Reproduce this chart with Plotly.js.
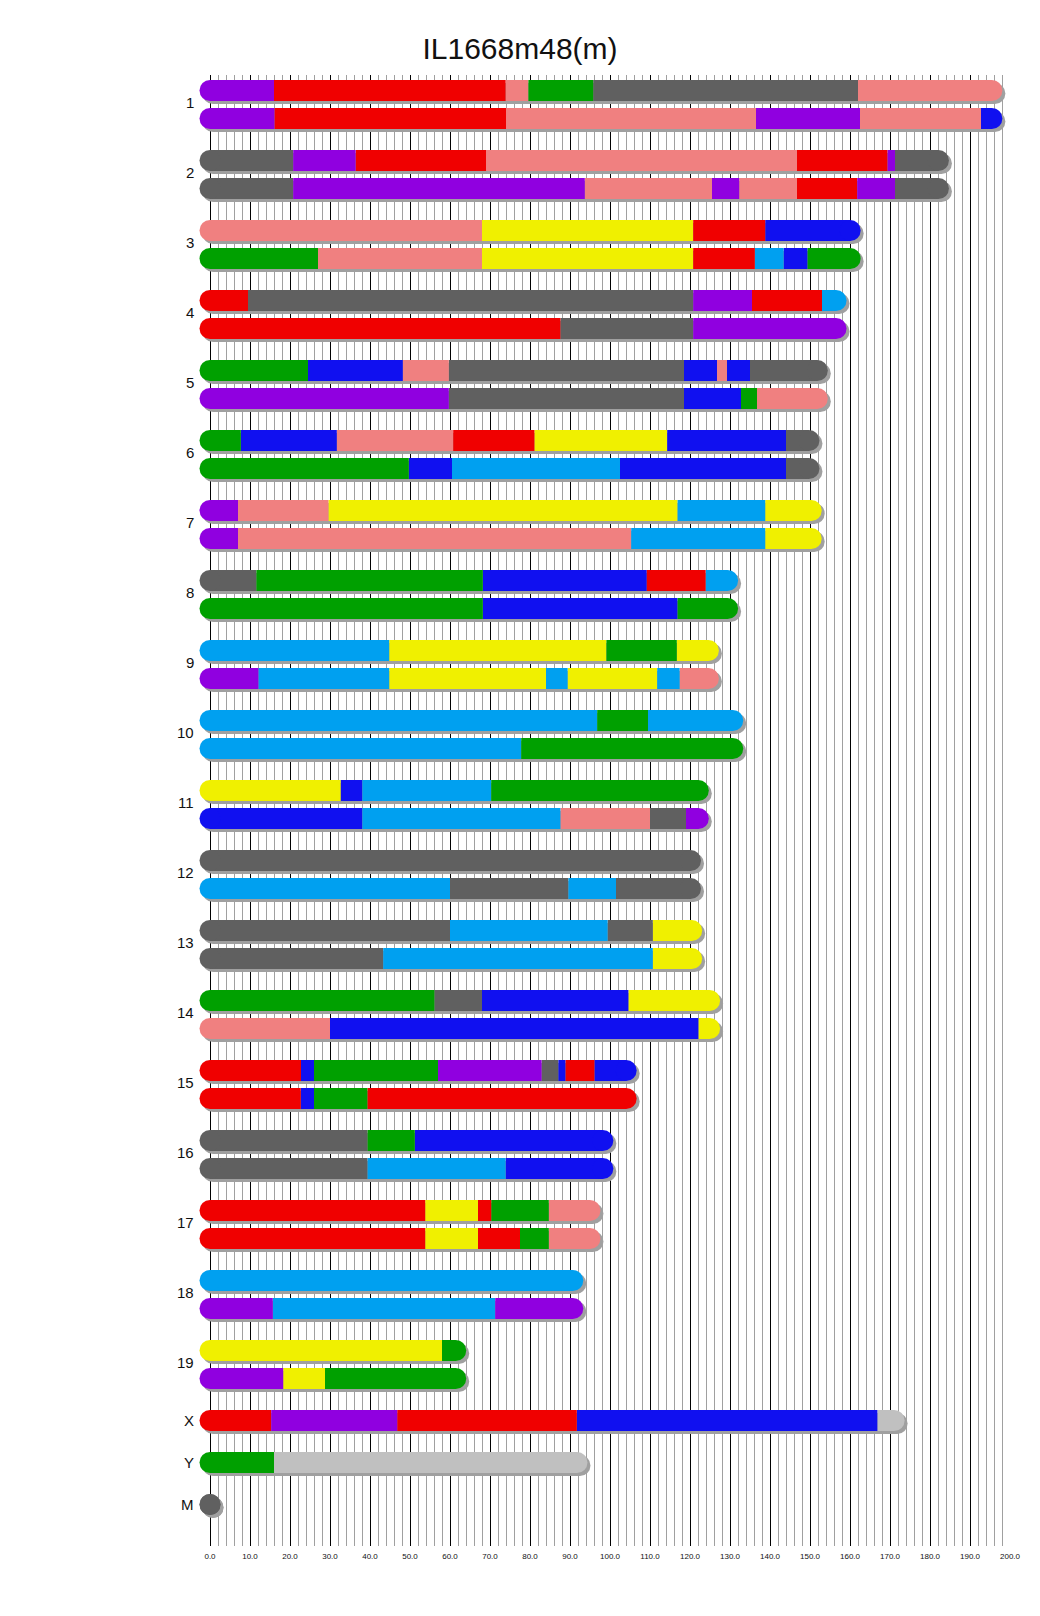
<!DOCTYPE html>
<html>
<head>
<meta charset="utf-8">
<script src="https://cdn.plot.ly/plotly-3.0.1.min.js"></script>
<style>html,body{margin:0;padding:0;background:#fff;}</style>
</head>
<body>
<div id="chart" style="width:1040px;height:1616px;"></div>
<script>
// ---------------- DATA ----------------
const chartTitle = "IL1668m48(m)";
const chromosomes = ["1","2","3","4","5","6","7","8","9","10","11","12","13","14","15","16","17","18","19","X","Y","M"];
const chromLengthsMb = [195.47,182.11,160.04,156.51,151.83,149.74,150.3,129.40,124.60,130.69,122.08,120.13,120.42,124.90,104.04,98.21,94.99,90.70,61.43,171.03,91.74,0.016];
const strainCodes = ["A","B","C","D","E","F","G","H","N"];
const strainNames = ["A/J","C57BL/6J","129S1/SvImJ","NOD/ShiLtJ","NZO/HlLtJ","CAST/EiJ","PWK/PhJ","WSB/EiJ","none"];
const xTickValues = [0,10,20,30,40,50,60,70,80,90,100,110,120,130,140,150,160,170,180,190,200];

// haplotype segments: [strain, end position (Mb)]
const hap_1a = [["H",16.0],["G",73.9],["C",79.6],["F",95.8],["B",162.0],["C",195.47]];
const hap_1b = [["H",16.1],["G",74.0],["C",136.5],["H",162.5],["C",192.75],["D",195.47]];
const hap_2a = [["B",20.8],["H",36.4],["G",69.0],["C",146.75],["G",169.4],["H",171.25],["B",182.11]];
const hap_2b = [["B",20.8],["H",93.7],["C",125.5],["H",132.3],["C",146.75],["G",161.8],["H",171.25],["B",182.11]];
const hap_3a = [["C",68.0],["A",120.8],["G",138.8],["D",160.04]];
const hap_3b = [["F",27.0],["C",68.0],["A",120.8],["G",136.2],["E",143.4],["D",149.4],["F",160.04]];
const hap_4a = [["G",9.5],["B",120.8],["H",135.5],["G",153.0],["E",156.51]];
const hap_4b = [["G",87.6],["B",120.8],["H",156.51]];
const hap_5a = [["F",24.5],["D",48.2],["C",59.7],["B",118.5],["D",126.75],["C",129.25],["D",135.0],["B",151.83]];
const hap_5b = [["H",59.7],["B",118.5],["D",132.75],["F",136.75],["C",151.83]];
const hap_6a = [["F",7.7],["D",31.7],["C",60.8],["G",81.1],["A",114.3],["D",144.0],["B",149.74]];
const hap_6b = [["F",49.7],["D",60.5],["E",102.5],["D",144.0],["B",149.74]];
const hap_7a = [["H",7.0],["C",29.6],["A",116.9],["E",138.8],["A",150.3]];
const hap_7b = [["H",7.0],["C",105.3],["E",138.8],["A",150.3]];
const hap_8a = [["B",11.6],["F",68.2],["D",109.2],["G",123.9],["E",129.40]];
const hap_8b = [["F",68.2],["D",116.9],["F",129.40]];
const hap_9a = [["E",44.8],["A",99.1],["F",116.7],["A",124.60]];
const hap_9b = [["H",12.1],["E",44.8],["A",84.0],["E",89.4],["A",111.8],["E",117.4],["C",124.60]];
const hap_10a = [["E",96.8],["F",109.5],["E",130.69]];
const hap_10b = [["E",77.8],["F",130.69]];
const hap_11a = [["A",32.7],["D",38.1],["E",70.3],["F",122.08]];
const hap_11b = [["D",38.1],["E",87.6],["C",110.0],["B",119.0],["H",122.08]];
const hap_12a = [["B",120.13]];
const hap_12b = [["E",60.0],["B",89.6],["E",101.5],["B",120.13]];
const hap_13a = [["B",60.0],["E",99.4],["B",110.7],["A",120.42]];
const hap_13b = [["B",43.3],["E",110.7],["A",120.42]];
const hap_14a = [["F",56.1],["B",68.0],["D",104.6],["A",124.90]];
const hap_14b = [["C",30.0],["D",122.1],["A",124.90]];
const hap_15a = [["G",22.75],["D",26.0],["F",57.0],["H",82.9],["B",87.1],["D",88.9],["G",96.1],["D",104.04]];
const hap_15b = [["G",22.7],["D",26.0],["F",39.4],["G",104.04]];
const hap_16a = [["B",39.4],["F",51.2],["D",98.21]];
const hap_16b = [["B",39.4],["E",73.9],["D",98.21]];
const hap_17a = [["G",53.8],["A",67.0],["G",70.3],["F",84.7],["C",94.99]];
const hap_17b = [["G",53.8],["A",67.0],["G",77.5],["F",84.7],["C",94.99]];
const hap_18a = [["E",90.70]];
const hap_18b = [["H",15.7],["E",71.3],["H",90.70]];
const hap_19a = [["A",58.0],["F",61.43]];
const hap_19b = [["H",18.3],["A",28.75],["F",61.43]];
const hap_Xa = [["G",15.3],["H",46.8],["G",91.7],["D",166.9],["N",171.03]];
const hap_Ya = [["F",16.0],["N",91.74]];
const hap_Ma = [["B",0.016]];

const haplotypeSets = [
  [hap_1a,hap_1b],[hap_2a,hap_2b],[hap_3a,hap_3b],[hap_4a,hap_4b],[hap_5a,hap_5b],
  [hap_6a,hap_6b],[hap_7a,hap_7b],[hap_8a,hap_8b],[hap_9a,hap_9b],[hap_10a,hap_10b],
  [hap_11a,hap_11b],[hap_12a,hap_12b],[hap_13a,hap_13b],[hap_14a,hap_14b],[hap_15a,hap_15b],
  [hap_16a,hap_16b],[hap_17a,hap_17b],[hap_18a,hap_18b],[hap_19a,hap_19b],
  [hap_Xa],[hap_Ya],[hap_Ma]
];

// ---------------- STYLE ----------------
const strainColors = {A:"#F0F000",B:"#606060",C:"#F08080",D:"#1010F0",E:"#00A0F0",F:"#00A000",G:"#F00000",H:"#9000E0",N:"#C0C0C0"};
const FONT = "Liberation Sans, Arial, sans-serif";
const W = 1040, H = 1616;
const X_RANGE = [-3,200];
const M = {l:198, r:30, t:75, b:70};
const plotW = W - M.l - M.r;
const pxPerMb = plotW / (X_RANGE[1]-X_RANGE[0]);
const Y_TOP = M.t, Y_BOT = H - M.b;     // y axis expressed in pixels
const BAR_PX = 21, SHADOW_PX = 3;
const FIRST_ROW = 90.5, HAP_GAP = 28, PAIR_PITCH = 70, SINGLE_PITCH = 42;
const minorGrid = [];
for (let v = 2; v < 200; v += 2) if (v % 10 !== 0) minorGrid.push(v);

// ---------------- LAYOUT OF ROWS ----------------
const rows = [];
const labels = [];
let cursor = FIRST_ROW;
haplotypeSets.forEach((haps, ci) => {
  haps.forEach((segs, hi) => rows.push({chr: ci, y: cursor + hi*HAP_GAP, segs: segs, len: chromLengthsMb[ci]}));
  labels.push({text: chromosomes[ci], y: haps.length === 2 ? cursor + HAP_GAP/2 - 2.5 : cursor});
  cursor += haps.length === 2 ? PAIR_PITCH : SINGLE_PITCH;
});

const shadowDx = SHADOW_PX / pxPerMb;
const traces = [];

// shadows
traces.push({
  type: "bar", orientation: "h", name: "shadow", showlegend: false, hoverinfo: "skip",
  y: rows.map(r => r.y + SHADOW_PX), x: rows.map(r => r.len), base: rows.map(r => shadowDx),
  width: rows.map(() => BAR_PX),
  marker: {color: "#A0A0A0", line: {width: 0}}, zorder: 0
});
traces.push({
  type: "scatter", mode: "markers", name: "shadow caps", showlegend: false, hoverinfo: "skip", cliponaxis: false,
  x: rows.flatMap(r => [shadowDx, r.len + shadowDx]),
  y: rows.flatMap(r => [r.y + SHADOW_PX, r.y + SHADOW_PX]),
  marker: {symbol: "circle", size: BAR_PX, color: "#A0A0A0", line: {width: 0}}, zorder: 0
});

// segments per strain
strainCodes.forEach((code, si) => {
  const ys = [], xs = [], bases = [], ws = [], txt = [];
  rows.forEach(r => {
    let start = 0;
    r.segs.forEach(([s, end]) => {
      if (s === code) { ys.push(r.y); xs.push(end - start); bases.push(start); ws.push(BAR_PX); txt.push("chr" + chromosomes[r.chr] + ": " + start + "-" + end + " Mb"); }
      start = end;
    });
  });
  if (!ys.length) return;
  traces.push({
    type: "bar", orientation: "h", name: strainNames[si], showlegend: false,
    y: ys, x: xs, base: bases, width: ws, text: txt, textposition: "none", hoverinfo: "text+name",
    marker: {color: strainColors[code], line: {width: 0}}, zorder: 1
  });
});

// rounded caps (coloured like the end segments)
strainCodes.forEach((code, si) => {
  const xs = [], ys = [];
  rows.forEach(r => {
    if (r.segs[0][0] === code) { xs.push(0); ys.push(r.y); }
    if (r.segs[r.segs.length-1][0] === code) { xs.push(r.len); ys.push(r.y); }
  });
  if (!xs.length) return;
  traces.push({
    type: "scatter", mode: "markers", name: strainNames[si] + " caps", showlegend: false, hoverinfo: "skip", cliponaxis: false,
    x: xs, y: ys, marker: {symbol: "circle", size: BAR_PX, color: strainColors[code], line: {width: 0}}, zorder: 2
  });
});

const layout = {
  width: W, height: H,
  margin: M,
  paper_bgcolor: "#fff", plot_bgcolor: "#fff",
  barmode: "overlay",
  showlegend: false,
  font: {family: FONT, color: "#111"},
  title: {text: chartTitle, font: {family: FONT, size: 30, color: "#111"}, x: 0.5, xref: "container", xanchor: "center", y: 1 - 48/H, yref: "container", yanchor: "middle"},
  xaxis: {
    range: X_RANGE, tickmode: "array", tickvals: xTickValues, tickformat: ".1f",
    showgrid: true, gridcolor: "#000", gridwidth: 1,
    minor: {tickmode: "array", tickvals: minorGrid, showgrid: true, gridcolor: "#A0A0A0", gridwidth: 1, ticks: ""},
    zeroline: false, showline: false, ticks: "", ticklabelstandoff: 4,
    tickfont: {family: FONT, size: 8, color: "#111"},
    fixedrange: true
  },
  yaxis: {range: [Y_BOT, Y_TOP], showgrid: false, zeroline: false, showticklabels: false, ticks: "", showline: false, fixedrange: true},
  annotations: labels.map(l => ({
    text: l.text, xref: "x", x: 0, xanchor: "right", xshift: -14,
    yref: "y", y: l.y, yanchor: "middle", showarrow: false,
    font: {family: FONT, size: 15, color: "#111"}
  }))
};

Plotly.newPlot("chart", traces, layout, {displayModeBar: false, staticPlot: true});
</script>
</body>
</html>
